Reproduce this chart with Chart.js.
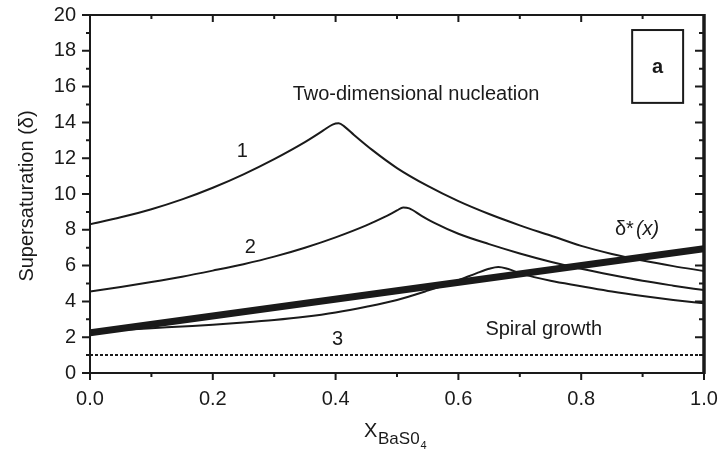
<!DOCTYPE html>
<html>
<head>
<meta charset="utf-8">
<title>Supersaturation vs X BaSO4</title>
<script src="https://cdn.jsdelivr.net/npm/chart.js@4"></script>
<style>
  html, body { margin: 0; padding: 0; background: #fff; }
  canvas { display: block; }
</style>
</head>
<body>
<canvas id="myChart" width="720" height="450"></canvas>
<script>
// Curva 1
const xs1 = [0, 0.05, 0.1, 0.15, 0.2, 0.25, 0.3, 0.35, 0.38, 0.395, 0.405, 0.415, 0.43, 0.46, 0.5, 0.55, 0.6, 0.65, 0.7, 0.75, 0.8, 0.85, 0.9, 0.95, 1.0];
const ys1 = [8.31, 8.7, 9.15, 9.7, 10.35, 11.1, 11.95, 12.9, 13.55, 13.88, 13.95, 13.75, 13.3, 12.45, 11.45, 10.45, 9.6, 8.88, 8.25, 7.68, 7.1, 6.65, 6.28, 5.97, 5.7];

// Curva 2
const xs2 = [0, 0.05, 0.1, 0.15, 0.2, 0.25, 0.3, 0.35, 0.4, 0.45, 0.48, 0.5, 0.51, 0.52, 0.54, 0.56, 0.6, 0.65, 0.7, 0.75, 0.8, 0.85, 0.9, 0.95, 1.0];
const ys2 = [4.55, 4.8, 5.08, 5.38, 5.72, 6.08, 6.5, 7.0, 7.58, 8.25, 8.72, 9.08, 9.25, 9.2, 8.78, 8.4, 7.78, 7.2, 6.68, 6.22, 5.82, 5.47, 5.15, 4.88, 4.63];

// Curva 3
const xs3 = [0, 0.05, 0.1, 0.15, 0.2, 0.25, 0.3, 0.35, 0.4, 0.45, 0.5, 0.55, 0.6, 0.63, 0.65, 0.665, 0.68, 0.7, 0.75, 0.8, 0.85, 0.9, 0.95, 1.0];
const ys3 = [2.3, 2.4, 2.5, 2.6, 2.7, 2.82, 2.96, 3.14, 3.38, 3.7, 4.08, 4.6, 5.18, 5.58, 5.82, 5.92, 5.82, 5.58, 5.15, 4.85, 4.55, 4.3, 4.08, 3.89];

// delta*(x), recta gruesa
const xsStar = [0, 1.0];
const ysStar = [2.25, 6.95];

// linea punteada delta = 1
const xsDash = [0, 1.0];
const ysDash = [1, 1];

// etiquetas de los ejes
const xTicks = [0, 0.2, 0.4, 0.6, 0.8, 1.0];
const yTicks = [0, 2, 4, 6, 8, 10, 12, 14, 16, 18, 20];

const FONT = "'Liberation Sans', Arial, sans-serif";
const INK = "#1a1a1a";

function toPoints(xs, ys) {
    return xs.map((x, i) => ({ x: x, y: ys[i] }));
}

function curve(xs, ys, width, dash) {
    return {
        data: toPoints(xs, ys),
        showLine: true,
        borderColor: INK,
        borderWidth: width,
        borderDash: dash || [],
        pointRadius: 0,
        cubicInterpolationMode: "monotone",
        fill: false
    };
}

// el area del grafico la fija layout.padding, no las etiquetas
function fijarEscala(size) {
    return (s) => {
        if (s.isHorizontal()) s.height = size; else s.width = size;
        s.paddingTop = 0;
        s.paddingBottom = 0;
        s.paddingLeft = 0;
        s.paddingRight = 0;
    };
}

// Marco, marcas de los ejes y textos sobre el grafico
const decoraciones = {
    id: "decoraciones",
    afterDraw(chart) {
        const ctx = chart.ctx;
        const sx = chart.scales.x;
        const sy = chart.scales.y;
        const a = chart.chartArea;
        ctx.save();
        ctx.strokeStyle = INK;
        ctx.fillStyle = INK;

        // ejes
        ctx.lineWidth = 2;
        ctx.beginPath();
        ctx.moveTo(a.left, a.top);
        ctx.lineTo(a.right, a.top);
        ctx.moveTo(a.left, a.top);
        ctx.lineTo(a.left, a.bottom);
        ctx.moveTo(a.left, a.bottom);
        ctx.lineTo(a.right, a.bottom);
        ctx.stroke();
        ctx.lineWidth = 3.5;
        ctx.beginPath();
        ctx.moveTo(a.right, a.top - 1);
        ctx.lineTo(a.right, a.bottom + 1);
        ctx.stroke();

        // marcas en x: abajo hacia fuera, arriba hacia dentro
        ctx.lineWidth = 2;
        ctx.beginPath();
        for (let i = 0; i <= 10; i++) {
            const px = sx.getPixelForValue(i / 10);
            const len = i % 2 === 0 ? 7 : 4;
            ctx.moveTo(px, a.bottom);
            ctx.lineTo(px, a.bottom + len);
            ctx.moveTo(px, a.top);
            ctx.lineTo(px, a.top + len);
        }
        // marcas en y: izquierda hacia fuera, derecha hacia dentro
        for (let v = 0; v <= 20; v++) {
            const py = sy.getPixelForValue(v);
            const len = v % 2 === 0 ? 8 : 4;
            ctx.moveTo(a.left, py);
            ctx.lineTo(a.left - len, py);
            ctx.moveTo(a.right, py);
            ctx.lineTo(a.right - len - 1, py);
        }
        ctx.stroke();

        // textos dentro del grafico
        ctx.font = "20px " + FONT;
        ctx.textBaseline = "alphabetic";
        ctx.textAlign = "center";
        ctx.fillText("Two-dimensional nucleation", sx.getPixelForValue(0.531), sy.getPixelForValue(15.23));
        ctx.fillText("1", sx.getPixelForValue(0.248), sy.getPixelForValue(12.05));
        ctx.fillText("2", sx.getPixelForValue(0.261), sy.getPixelForValue(6.69));
        ctx.fillText("3", sx.getPixelForValue(0.403), sy.getPixelForValue(1.56));
        ctx.fillText("Spiral growth", sx.getPixelForValue(0.739), sy.getPixelForValue(2.12));

        // delta*(x)
        ctx.textAlign = "left";
        let tx = sx.getPixelForValue(0.855);
        const ty = sy.getPixelForValue(7.7);
        ctx.fillText("\u03b4*", tx, ty);
        tx += ctx.measureText("\u03b4*").width + 2;
        ctx.font = "italic 20px " + FONT;
        ctx.fillText("(x)", tx, ty);

        // recuadro "a"
        const bx0 = sx.getPixelForValue(0.883);
        const bx1 = sx.getPixelForValue(0.966);
        const by0 = sy.getPixelForValue(19.16);
        const by1 = sy.getPixelForValue(15.09);
        ctx.lineWidth = 2;
        ctx.strokeRect(bx0, by0, bx1 - bx0, by1 - by0);
        ctx.font = "bold 20px " + FONT;
        ctx.textAlign = "center";
        ctx.textBaseline = "middle";
        ctx.fillText("a", (bx0 + bx1) / 2, (by0 + by1) / 2 + 1);

        // titulo del eje y
        ctx.save();
        ctx.translate(27, 196);
        ctx.rotate(-Math.PI / 2);
        ctx.font = "20px " + FONT;
        ctx.textAlign = "center";
        ctx.textBaseline = "middle";
        ctx.fillText("Supersaturation (\u03b4)", 0, 0);
        ctx.restore();

        // titulo del eje x con subindices
        ctx.textAlign = "left";
        ctx.textBaseline = "alphabetic";
        ctx.font = "20px " + FONT;
        ctx.fillText("X", 364, 437);
        ctx.font = "17px " + FONT;
        ctx.fillText("BaS0", 378, 444);
        const subEnd = 378 + ctx.measureText("BaS0").width;
        ctx.font = "11px " + FONT;
        ctx.fillText("4", subEnd + 1, 449);

        ctx.restore();
    }
};

const myChart = new Chart("myChart", {
    type: "scatter",
    data: {
        datasets: [
            curve(xsDash, ysDash, 2, [3, 2]),
            curve(xs3, ys3, 2),
            curve(xs2, ys2, 2),
            curve(xs1, ys1, 2),
            curve(xsStar, ysStar, 7)
        ]
    },
    options: {
        responsive: false,
        animation: false,
        devicePixelRatio: 1,
        layout: { padding: { left: 0, right: 16, top: 15, bottom: 0 } },
        plugins: {
            legend: { display: false },
            tooltip: { enabled: false }
        },
        scales: {
            x: {
                type: "linear",
                min: 0,
                max: 1,
                afterFit: fijarEscala(77),
                afterBuildTicks: (s) => { s.ticks = xTicks.map(v => ({ value: v })); },
                grid: { display: false, drawTicks: false },
                border: { display: false },
                ticks: {
                    padding: 14,
                    color: INK,
                    font: { family: FONT, size: 20 },
                    callback: (v) => Number(v).toFixed(1)
                }
            },
            y: {
                type: "linear",
                min: 0,
                max: 20,
                afterFit: fijarEscala(90),
                afterBuildTicks: (s) => { s.ticks = yTicks.map(v => ({ value: v })); },
                grid: { display: false, drawTicks: false },
                border: { display: false },
                ticks: {
                    padding: 14,
                    color: INK,
                    font: { family: FONT, size: 20 }
                }
            }
        }
    },
    plugins: [decoraciones]
});
</script>
</body>
</html>
